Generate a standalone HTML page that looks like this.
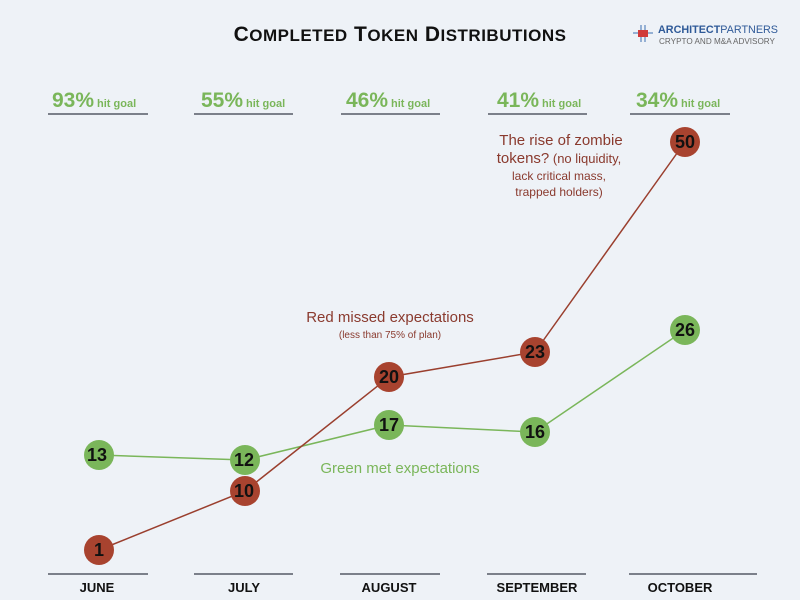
<!DOCTYPE html>
<html><head><style>
html,body{margin:0;padding:0;background:#eef2f7;}
svg{display:block;font-family:"Liberation Sans",sans-serif;}
</style></head><body>
<svg width="800" height="600" viewBox="0 0 800 600">
<rect width="800" height="600" fill="#eef2f7"/>
<text x="400" y="41" text-anchor="middle" font-size="21" font-weight="bold" fill="#111" letter-spacing="0.5">C<tspan font-size="17">OMPLETED</tspan> T<tspan font-size="17">OKEN</tspan> D<tspan font-size="17">ISTRIBUTIONS</tspan></text>
<g>
<line x1="633" y1="33" x2="653" y2="33" stroke="#3a6fb0" stroke-width="1"/>
<line x1="641" y1="25" x2="641" y2="42" stroke="#3a6fb0" stroke-width="1"/>
<line x1="645" y1="25" x2="645" y2="42" stroke="#3a6fb0" stroke-width="1"/>
<rect x="638" y="30" width="10" height="7" fill="#d03a3a"/>
<text x="658" y="33" font-size="11" font-weight="bold" fill="#2f5a98" textLength="120" lengthAdjust="spacingAndGlyphs">ARCHITECT<tspan font-weight="normal">PARTNERS</tspan></text>
<text x="659" y="44" font-size="8" fill="#666" textLength="116" lengthAdjust="spacingAndGlyphs">CRYPTO AND M&amp;A ADVISORY</text>
</g>
<g fill="#7ab65a" font-weight="bold">
<text x="52" y="107" font-size="21">93%<tspan font-size="11" dx="3">hit goal</tspan></text>
<text x="201" y="107" font-size="21">55%<tspan font-size="11" dx="3">hit goal</tspan></text>
<text x="346" y="107" font-size="21">46%<tspan font-size="11" dx="3">hit goal</tspan></text>
<text x="497" y="107" font-size="21">41%<tspan font-size="11" dx="3">hit goal</tspan></text>
<text x="636" y="107" font-size="21">34%<tspan font-size="11" dx="3">hit goal</tspan></text>
</g>
<g stroke="#555b66" stroke-width="1.5">
<line x1="48" y1="114" x2="148" y2="114"/><line x1="194" y1="114" x2="293" y2="114"/>
<line x1="341" y1="114" x2="440" y2="114"/><line x1="488" y1="114" x2="587" y2="114"/>
<line x1="630" y1="114" x2="730" y2="114"/>
<line x1="48" y1="574" x2="148" y2="574"/><line x1="194" y1="574" x2="293" y2="574"/>
<line x1="340" y1="574" x2="440" y2="574"/><line x1="487" y1="574" x2="586" y2="574"/>
<line x1="629" y1="574" x2="757" y2="574"/>
</g>
<g font-size="13" font-weight="bold" fill="#111" text-anchor="middle">
<text x="97" y="592">JUNE</text><text x="244" y="592">JULY</text><text x="389" y="592">AUGUST</text>
<text x="537" y="592">SEPTEMBER</text><text x="680" y="592">OCTOBER</text>
</g>
<g fill="#8a3a2e" text-anchor="middle">
<text x="561" y="145" font-size="15">The rise of zombie</text>
<text x="559" y="163" font-size="13"><tspan font-size="15">tokens?</tspan> (no liquidity,</text>
<text x="559" y="180" font-size="12">lack critical mass,</text>
<text x="559" y="196" font-size="12">trapped holders)</text>
<text x="390" y="322" font-size="15">Red missed expectations</text>
<text x="390" y="338" font-size="10">(less than 75% of plan)</text>
</g>
<text x="400" y="473" font-size="15" fill="#7ab65a" text-anchor="middle">Green met expectations</text>
<polyline points="99,455 245,460 389,425 535,432 685,330" fill="none" stroke="#7ab65a" stroke-width="1.5"/>
<polyline points="99,550 245,491 389,377 535,352 685,142" fill="none" stroke="#9a3f2e" stroke-width="1.5"/>
<g font-size="18" font-weight="bold" fill="#111" text-anchor="middle">
<g fill="#7ab65a"><circle cx="99" cy="455" r="15"/><circle cx="245" cy="460" r="15"/><circle cx="389" cy="425" r="15"/><circle cx="535" cy="432" r="15"/><circle cx="685" cy="330" r="15"/></g>
<g fill="#a8432f"><circle cx="99" cy="550" r="15"/><circle cx="245" cy="491" r="15"/><circle cx="389" cy="377" r="15"/><circle cx="535" cy="352" r="15"/><circle cx="685" cy="142" r="15"/></g>
<text x="97" y="461">13</text><text x="244" y="466">12</text><text x="389" y="431">17</text><text x="535" y="438">16</text><text x="685" y="336">26</text>
<text x="99" y="556">1</text><text x="244" y="497">10</text><text x="389" y="383">20</text><text x="535" y="358">23</text><text x="685" y="148">50</text>
</g>
</svg>
</body></html>
